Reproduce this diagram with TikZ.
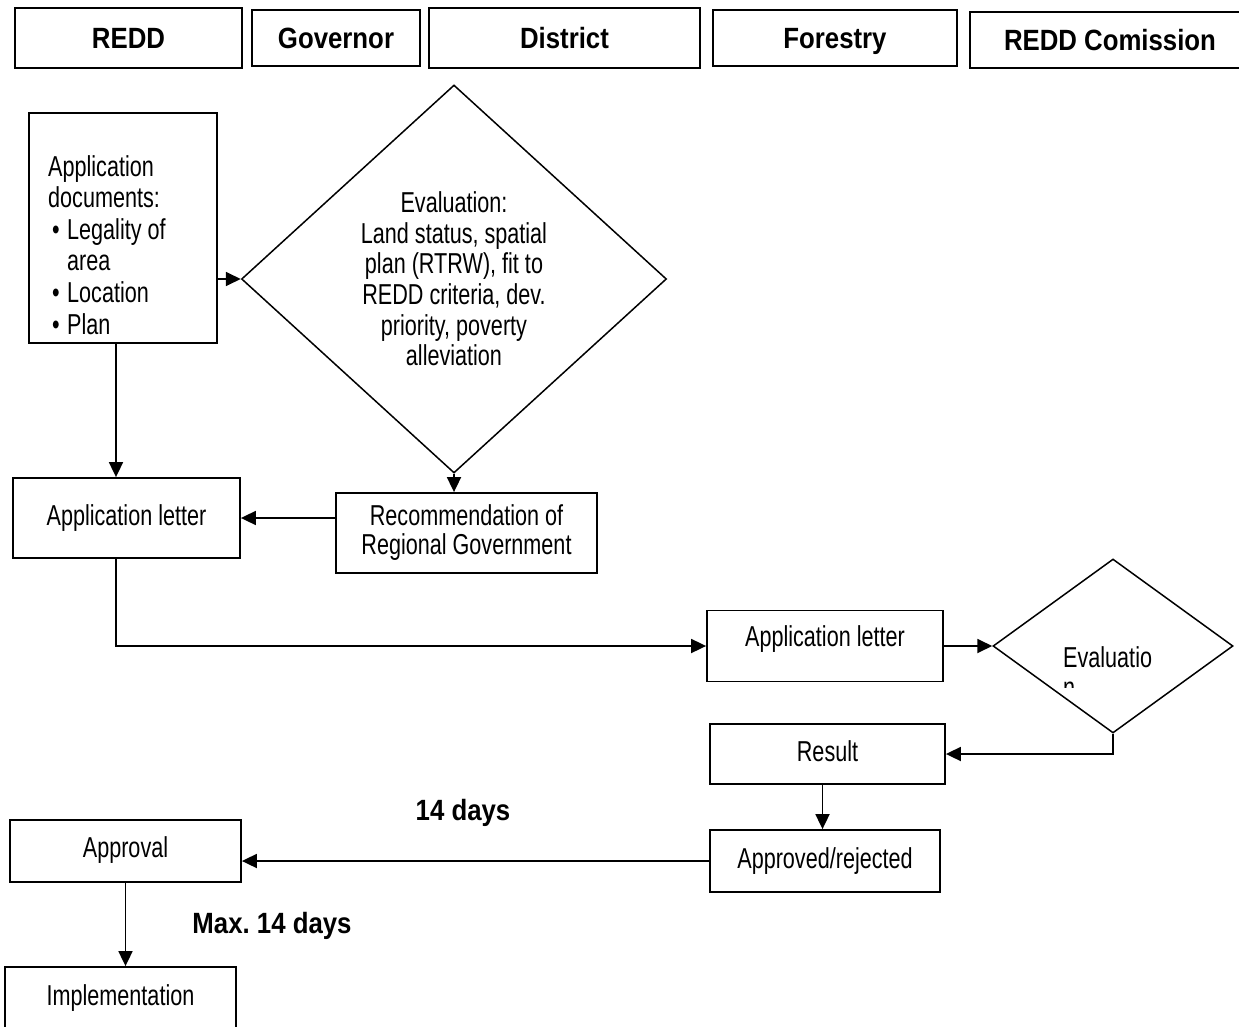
\documentclass[tikz,border=0pt]{standalone}
\usepackage{fontspec}
\setmainfont{Liberation Sans}[FakeStretch=0.75,BoldFeatures={FakeStretch=0.88}]
\usetikzlibrary{arrows.meta,shapes.geometric}

\begin{document}
\begin{tikzpicture}[x=1pt,y=-1pt]
\tikzset{box/.style={draw,line width=1.8pt,inner sep=0pt,align=center,font=\fontsize{28.8}{29}\selectfont},
 head/.style={box,text height=21pt,text depth=0pt,font=\fontsize{29.3}{36}\selectfont\bfseries},
 dia/.style={draw,diamond,line width=1.5pt,inner sep=0pt,align=center,font=\fontsize{28.8}{30.6}\selectfont},
 arr/.style={line width=1.8pt,-{Triangle[length=15pt,width=14pt]}},
 days/.style={inner sep=0pt,font=\fontsize{29.3}{36}\selectfont\bfseries}}
\useasboundingbox (0,0) rectangle (1239,1027);
\clip (0,0) rectangle (1239,1027);
% header row
\node[head,minimum width=227pt,minimum height=60pt] (reddh) at (128.5,38) {REDD};
\node[head,minimum width=168pt,minimum height=56pt] (govh) at (336,38) {Governor};
\node[head,minimum width=271pt,minimum height=60pt] (disth) at (564.5,38) {District};
\node[head,minimum width=244pt,minimum height=56pt] (foresth) at (835,38) {Forestry};
\node[head,minimum width=280pt,minimum height=56pt] (comh) at (1110,40) {REDD Comission};
% application
\node[box,minimum width=188pt,minimum height=230pt] (docs) at (123,228) {};
\node[anchor=north west,inner sep=0pt,align=left,font=\fontsize{28.8}{31.6}\selectfont] (docstxt) at (48,155)
 {Application\\documents:\\\hspace*{4pt}\makebox[15pt][l]{\textbullet}Legality of\\\hspace*{19pt}area\\
  \hspace*{4pt}\makebox[15pt][l]{\textbullet}Location\\\hspace*{4pt}\makebox[15pt][l]{\textbullet}Plan};
\node[dia,minimum width=425pt,minimum height=388pt] (bigeval) at (454,279)
 {Evaluation:\\Land status, spatial\\plan (RTRW), fit to\\REDD criteria, dev.\\priority, poverty\\alleviation};
\node[box,minimum width=227pt,minimum height=80pt] (appl1) at (126.5,518) {Application letter};
\node[box,minimum width=261pt,minimum height=80pt] (rec) at (466.5,533) {Recommendation of\\Regional Government};
% forestry / commission
\node[box,minimum width=236pt,minimum height=71pt,text depth=20pt] (appl2) at (825,646) {Application letter};
\node[dia,minimum width=240pt,minimum height=174pt] (eval2) at (1113,646) {};
\node[anchor=base west,inner sep=0pt,font=\fontsize{28.8}{28}\selectfont] (evaltxt) at (1063,667) {Evaluatio};
\begin{scope}
\clip (1050,678) rectangle (1090,687.5);
\node[anchor=base west,inner sep=0pt,font=\fontsize{28.8}{28}\selectfont] (evaln) at (1063,697) {n};
\end{scope}
\node[box,minimum width=235pt,minimum height=60pt,text depth=6pt] (result) at (827.5,754) {Result};
\node[box,minimum width=230pt,minimum height=62pt] (approved) at (825,861) {Approved/rejected};
\node[box,minimum width=231pt,minimum height=62pt,text depth=8pt] (approval) at (125.5,851) {Approval};
\node[box,minimum width=231pt,minimum height=92pt,text depth=36pt] (impl) at (120.5,1013) {Implementation};
\node[days] (days1) at (463,813) {14 days};
\node[days] (days2) at (272,926) {Max.\ 14 days};
% arrows
\draw[arr] (bigeval.west -| docs.east) -- (bigeval.west);
\draw[arr] ([xshift=-7pt]docs.south) -- ([xshift=-7pt]docs.south |- appl1.north);
\draw[arr] (bigeval.south) -- (bigeval.south |- rec.north);
\draw[arr] (appl1.east -| rec.west) -- (appl1.east);
\draw[arr] ([xshift=-10.5pt]appl1.south) |- (appl2.west);
\draw[arr] (appl2.east) -- (eval2.west);
\draw[arr] (eval2.south) |- (result.east);
\draw[arr] ([xshift=-5pt]result.south) -- ([xshift=-5pt]result.south |- approved.north);
\draw[arr] (approved.west) -- (approved.west -| approval.east);
\draw[arr] (approval.south) -- (approval.south |- impl.north);
\end{tikzpicture}
\end{document}
